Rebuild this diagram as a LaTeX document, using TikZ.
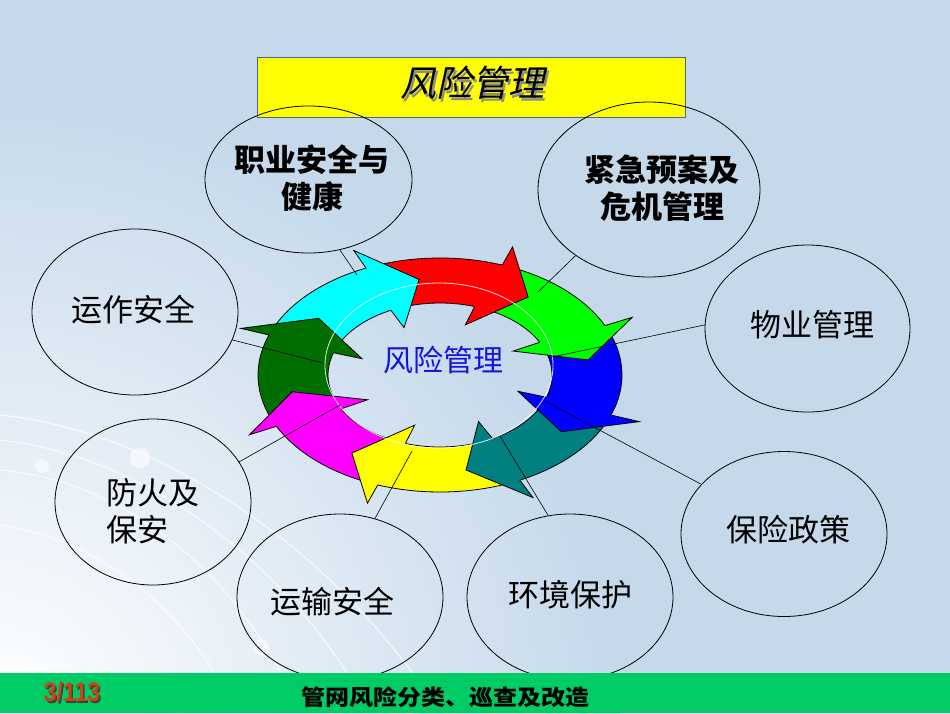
\documentclass[tikz,border=0pt]{standalone}
\usepackage{fontspec}
\usepackage{graphicx}
\setmainfont{Noto Sans CJK SC}
\newfontfamily\titlefont[FakeSlant=0.22]{Noto Sans CJK SC}
\newfontfamily\numfont{Liberation Sans}
\usetikzlibrary{shapes.geometric}
\definecolor{bg}{RGB}{197,217,235}
\definecolor{barg}{RGB}{0,204,102}
\definecolor{cyanc}{RGB}{0,255,255}
\definecolor{redc}{RGB}{255,0,0}
\definecolor{greenc}{RGB}{0,255,0}
\definecolor{bluec}{RGB}{0,0,255}
\definecolor{tealc}{RGB}{0,128,128}
\definecolor{yellowc}{RGB}{255,255,0}
\definecolor{magentac}{RGB}{255,0,255}
\definecolor{dkgreen}{RGB}{0,110,0}
\definecolor{boxline}{RGB}{80,95,160}
\definecolor{numred}{RGB}{200,70,20}
\definecolor{centerblue}{RGB}{20,20,225}
\tikzset{
  bubble/.style={draw=black, line width=0.8pt, ellipse, inner sep=0pt},
  lbl/.style={font=\fontsize{31}{37}\selectfont, align=center, inner sep=0pt, text=black},
  lblb/.style={font=\fontsize{31}{37}\selectfont\bfseries, align=center, inner sep=0pt, text=black},
  conn/.style={draw=black, line width=0.6pt},
  deco/.style={draw=white, line width=1.3pt, opacity=0.7},
  dot/.style={fill=white, opacity=0.6}
}
\begin{document}
\begin{tikzpicture}[x=1pt,y=-1pt]
\useasboundingbox (0,0) rectangle (950,713);
\fill[bg] (0,0) rectangle (950,713);
\begin{scope}
  \clip (0,0) rectangle (950,713);
  \shade[inner color=white, outer color=bg] (0,713) circle[radius=620pt];
  \draw[deco] (0,415) .. controls (150,430) and (330,540) .. (440,713);
  \draw[deco] (0,440) .. controls (140,455) and (290,560) .. (370,713);
  \draw[deco] (0,470) .. controls (120,480) and (240,570) .. (300,713);
  \draw[deco] (0,525) .. controls (100,540) and (190,610) .. (235,713);
  \fill[dot] (42,466) circle[radius=7pt];
  \fill[dot] (140,458) circle[radius=10pt];
  \fill[dot] (261,647) circle[radius=8pt];
\end{scope}

% title box
\node[draw=boxline, line width=1pt, fill=yellowc, minimum width=428pt, minimum height=60pt, inner sep=0pt] (title) at (471,87) {};
\node[text=black, font=\titlefont\fontsize{36}{36}\selectfont] (titletext) at (472,83)
  {\makebox[0pt][l]{\hspace{2.5pt}\raisebox{-2.5pt}[0pt][0pt]{\color{black!45}风险管理}}风险管理};

% bubbles
\node[bubble, minimum width=207pt, minimum height=147pt] (zy) at (308.5,179.5) {};
\node[bubble, minimum width=222pt, minimum height=175pt] (jj) at (649,189.5) {};
\node[bubble, minimum width=205pt, minimum height=167pt] (wy) at (807.5,328.5) {};
\node[bubble, minimum width=206pt, minimum height=165pt] (bx) at (784,534) {};
\node[bubble, minimum width=206pt, minimum height=166pt] (hj) at (570,597) {};
\node[bubble, minimum width=206pt, minimum height=166pt] (ys) at (340,597) {};
\node[bubble, minimum width=196pt, minimum height=166pt] (fh) at (153,502) {};
\node[bubble, minimum width=206pt, minimum height=166pt] (yz) at (135,312) {};

\node[lblb] (zyt) at (312,178) {职业安全与\\健康};
\node[lblb] (jjt) at (662,188) {紧急预案及\\危机管理};
\node[lbl] (wyt) at (812,325) {物业管理};
\node[lbl] (bxt) at (788,530) {保险政策};
\node[lbl] (hjt) at (570,595) {环境保护};
\node[lbl] (yst) at (332,602) {运输安全};
\node[lbl, align=left, anchor=west] (fht) at (106,511) {防火及\\保安};
\node[lbl] (yzt) at (133,310) {运作安全};

% ring of arrows
\begin{scope}[shift={(440,375)}, yscale=0.643]
  \foreach \a/\b/\c in {200/247/cyanc, 246/291/redc, 290/336/greenc, 335/381/bluec, 380/425/tealc, 424/471/yellowc, 470/515/magentac, 514/561/dkgreen}
    \fill[\c] plot[domain=\a:\b, samples=30] (\x:182) -- plot[domain=\b:\a, samples=30] (\x:112) -- cycle;
  \draw[black, line width=0.8pt] plot[domain=0:360, samples=120] (\x:182) -- cycle;
  \draw[black, line width=0.8pt] plot[domain=0:360, samples=120] (\x:112) -- cycle;
  \foreach \t/\c in {262/cyanc, 306/redc, 351/greenc, 396/bluec, 440/tealc, 486/yellowc, 530/magentac, 576/dkgreen}{
    \pgfmathsetmacro\bb{\t-16}
    \pgfmathsetmacro\bi{\t-18}
    \filldraw[fill=\c, draw=black, line width=0.8pt, line join=miter] (\bb:182) -- (\bb:212) -- (\t:150) -- (\bi:82) -- (\bi:112);
  }
\end{scope}
\draw[white, opacity=0.85, line width=0.8pt] (439,365.5) ellipse[x radius=114pt, y radius=82.5pt];

% connectors
\coordinate (p1) at (357,275);
\coordinate (p2) at (538,292);
\coordinate (p3) at (552,357);
\coordinate (p4) at (545,401);
\coordinate (p5) at (500,436);
\coordinate (p6) at (412,451);
\coordinate (p7) at (340,405);
\coordinate (p8) at (323,363);
\draw[conn] (zy.-66.5) -- (p1);
\draw[conn] (jj.-138) -- (p2);
\draw[conn] (wy.178) -- (p3);
\draw[conn] (bx.149.6) -- (p4);
\draw[conn] (hj.105.7) -- (p5);
\draw[conn] (ys.66.9) -- (p6);
\draw[conn] (fh.25) -- (p7);
\draw[conn] (yz.-16.4) -- (p8);

\node[text=centerblue, font=\fontsize{30}{30}\selectfont] (center) at (443,360) {风险管理};

% bottom bar
\fill[barg] (0,673) rectangle (950,713);
\node[font=\fontsize{24}{24}\selectfont\bfseries, text=black] (footer) at (445,697) {\scalebox{1}[0.9]{管网风险分类、巡查及改造}};
\node[font=\numfont\fontsize{27}{27}\selectfont\bfseries, text=numred] (page) at (72,692)
  {\makebox[0pt][l]{\hspace{1.5pt}\raisebox{-1.5pt}[0pt][0pt]{\scalebox{0.85}[1]{\color{black!75}3/113}}}\scalebox{0.85}[1]{3/113}};
\end{tikzpicture}
\end{document}
